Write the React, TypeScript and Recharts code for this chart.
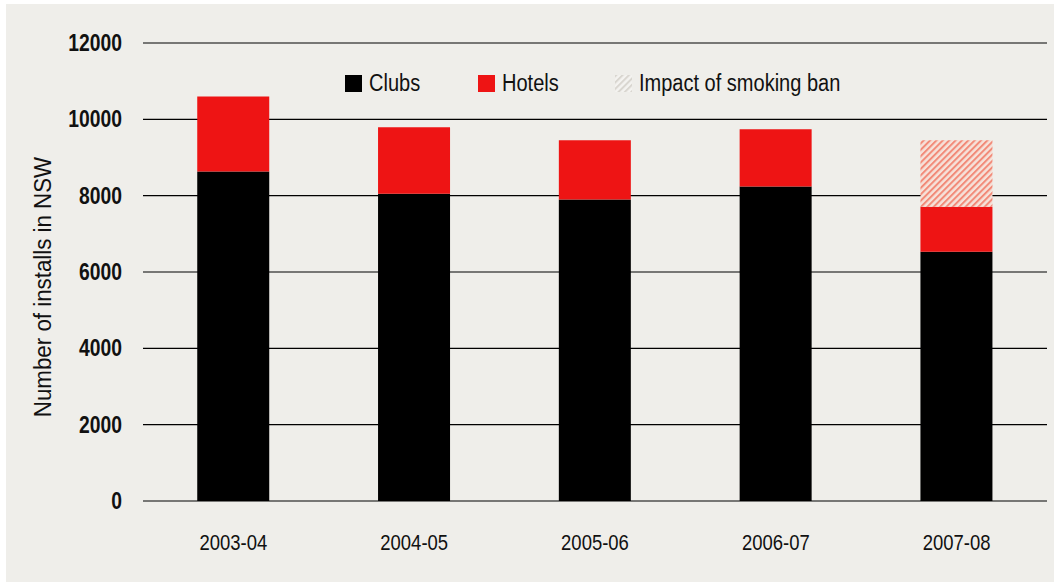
import React from "react";
import { BarChart, Bar, XAxis, YAxis, CartesianGrid, Label } from "recharts";

const years = ["2003-04", "2004-05", "2005-06", "2006-07", "2007-08"];
const clubs = [8630, 8050, 7900, 8240, 6530];
const hotels = [1970, 1740, 1550, 1500, 1180];
const smokingImpact = [0, 0, 0, 0, 1740];
const yTicks = [0, 2000, 4000, 6000, 8000, 10000, 12000];

const data = years.map((year, i) => ({
  year,
  clubs: clubs[i],
  hotels: hotels[i],
  impact: smokingImpact[i],
}));

const FONT = '"Liberation Sans Narrow", "Arial Narrow", "Liberation Sans", Arial, sans-serif';
const BG = "#EFEEEA";
const RED = "#EE1414";
const NARROW = 0.84;

const legendItems = [
  { label: "Clubs", fill: "#000", left: 345 },
  { label: "Hotels", fill: RED, left: 478 },
  { label: "Impact of smoking ban", fill: "url(#hatchLegend)", left: 615 },
];

// narrow look: scale text horizontally around its anchor point
function YTick({ x, y, payload }: any) {
  return (
    <text
      x={x}
      y={y}
      textAnchor="end"
      dominantBaseline="central"
      fontSize={23}
      fontWeight="bold"
      fill="#111"
      fontFamily={FONT}
      transform={`translate(${x} 0) scale(${NARROW} 1) translate(${-x} 0)`}
    >
      {payload.value}
    </text>
  );
}

function XTick({ x, y, payload }: any) {
  return (
    <text
      x={x}
      y={y + 49}
      textAnchor="middle"
      fontSize={22}
      fill="#111"
      fontFamily={FONT}
      transform={`translate(${x} 0) scale(${NARROW} 1) translate(${-x} 0)`}
    >
      {payload.value}
    </text>
  );
}

function LegendOverlay() {
  return (
    <>
      {legendItems.map((it) => (
        <div
          key={it.label}
          style={{
            position: "absolute",
            left: it.left,
            top: 70,
            display: "flex",
            alignItems: "center",
            whiteSpace: "nowrap",
            fontFamily: FONT,
          }}
        >
          <svg width={17} height={17} style={{ marginRight: 7 }}>
            <defs>
              <pattern id="hatchLegend" patternUnits="userSpaceOnUse" width={4.5} height={10} patternTransform="rotate(45)">
                <rect width={4.5} height={10} fill="#F4F3F0" />
                <rect width={2} height={10} fill="#D9D6D0" />
              </pattern>
            </defs>
            <rect width={17} height={17} fill={it.fill} />
          </svg>
          <span
            style={{
              fontSize: 23,
              color: "#111",
              lineHeight: "26px",
              display: "inline-block",
              transform: "scaleX(0.87)",
              transformOrigin: "left center",
            }}
          >
            {it.label}
          </span>
        </div>
      ))}
    </>
  );
}

export default function App() {
  return (
    <div style={{ position: "absolute", left: 0, top: 0, width: 1054, height: 583, background: "#fff" }}>
      <div style={{ position: "absolute", left: 6, top: 4, width: 1048, height: 578, background: BG }} />
      <div style={{ position: "absolute", left: 0, top: 0 }}>
        <BarChart
          width={1054}
          height={583}
          data={data}
          margin={{ top: 43, right: 7, bottom: 0, left: 0 }}
          barCategoryGap="30%"
        >
          <defs>
            <pattern id="hatchBar" patternUnits="userSpaceOnUse" width={4.5} height={10} patternTransform="rotate(45)">
              <rect width={4.5} height={10} fill="#F6E2DA" />
              <rect width={2} height={10} fill="#F28A78" />
            </pattern>
          </defs>
          <CartesianGrid vertical={false} stroke="#000" strokeWidth={1.2} />
          <XAxis
            dataKey="year"
            height={82}
            tickSize={0}
            tickMargin={0}
            axisLine={false}
            tickLine={false}
            tick={<XTick />}
          />
          <YAxis
            width={143}
            domain={[0, 12000]}
            ticks={yTicks}
            tickSize={0}
            tickMargin={21}
            axisLine={false}
            tickLine={false}
            tick={<YTick />}
          >
            <Label
              content={() => (
                <text
                  x={43}
                  y={284}
                  transform="rotate(-90 43 284) translate(0 284) scale(0.93 1) translate(0 -284)"
                  textAnchor="middle"
                  dominantBaseline="central"
                  fontSize={24}
                  fill="#111"
                  fontFamily={FONT}
                >
                  Number of installs in NSW
                </text>
              )}
            />
          </YAxis>
          <Bar dataKey="clubs" stackId="a" fill="#000" isAnimationActive={false} />
          <Bar dataKey="hotels" stackId="a" fill={RED} isAnimationActive={false} />
          <Bar dataKey="impact" stackId="a" fill="url(#hatchBar)" isAnimationActive={false} />
        </BarChart>
      </div>
      <LegendOverlay />
    </div>
  );
}
